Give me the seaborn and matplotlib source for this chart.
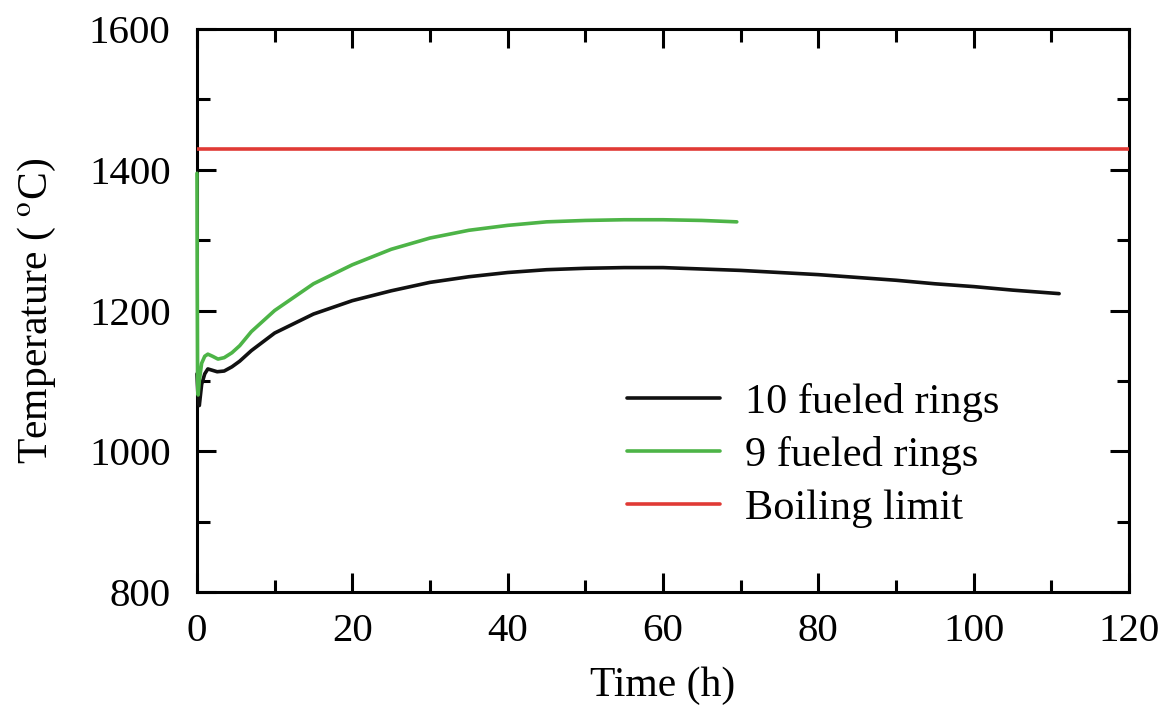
import numpy as np
import pandas as pd
import matplotlib
matplotlib.use("Agg")
import matplotlib.pyplot as plt
import seaborn as sns
from matplotlib.ticker import MultipleLocator
from matplotlib.lines import Line2D

# ---- data ----
time_10 = [0, 0.1, 0.3, 0.6, 1.0, 1.4, 2.0, 2.6, 3.5, 4.5, 5.5, 7, 10, 15, 20, 25, 30, 35, 40, 45, 50,
           55, 60, 65, 70, 75, 80, 85, 90, 95, 100, 105, 111]
temp_10 = [1110, 1085, 1065, 1095, 1110, 1117, 1115, 1113, 1114, 1120, 1128, 1143, 1168, 1195, 1214,
           1228, 1240, 1248, 1254, 1258, 1260, 1261, 1261, 1259, 1257, 1254, 1251, 1247, 1243, 1238,
           1234, 1229, 1224]

time_9 = [0, 0.03, 0.08, 0.15, 0.3, 0.6, 1.0, 1.4, 2.0, 2.7, 3.5, 4.5, 5.5, 7, 10, 15, 20, 25, 30, 35,
          40, 45, 50, 55, 60, 65, 69.5]
temp_9 = [1395, 1250, 1100, 1080, 1100, 1125, 1135, 1138, 1135, 1131, 1133, 1140, 1150, 1170, 1200,
          1238, 1265, 1287, 1303, 1314, 1321, 1326, 1328, 1329, 1329, 1328, 1326]

boiling_limit = 1430
series_labels = ["10 fueled rings", "9 fueled rings", "Boiling limit"]
series_colors = ["#111111", "#4db447", "#e03a35"]

x_ticks = [0, 20, 40, 60, 80, 100, 120]
y_ticks = [800, 1000, 1200, 1400, 1600]

df = pd.concat([
    pd.DataFrame({"Time": time_10, "Temp": temp_10, "Series": series_labels[0]}),
    pd.DataFrame({"Time": time_9, "Temp": temp_9, "Series": series_labels[1]}),
], ignore_index=True)

sns.set_style("ticks")
plt.rcParams["font.family"] = ["Liberation Serif", "DejaVu Serif"]
plt.rcParams["mathtext.fontset"] = "stix"
plt.rcParams["text.color"] = "black"
plt.rcParams["axes.labelcolor"] = "black"
plt.rcParams["xtick.color"] = "black"
plt.rcParams["ytick.color"] = "black"

fig = plt.figure(figsize=(11.69, 7.10), dpi=100)
ax = fig.add_axes([0.1685, 0.1662, 0.7973, 0.7929])

lw = 2.6
sns.lineplot(data=df, x="Time", y="Temp", hue="Series", sort=False, estimator=None,
             palette=dict(zip(series_labels[:2], series_colors[:2])), linewidth=lw, ax=ax,
             legend=False, zorder=3, clip_on=False)
ax.axhline(boiling_limit, color=series_colors[2], linewidth=lw, zorder=3)

ax.set_xlim(0, 120)
ax.set_ylim(800, 1600)
ax.set_xticks(x_ticks)
ax.set_yticks(y_ticks)
ax.xaxis.set_minor_locator(MultipleLocator(10))
ax.yaxis.set_minor_locator(MultipleLocator(100))
ax.tick_params(which="both", direction="in", top=True, right=True, width=2.2, labelsize=29.5)
ax.tick_params(axis="x", which="both", pad=15)
ax.tick_params(axis="y", which="both", pad=19)
ax.tick_params(which="major", length=14)
ax.tick_params(which="minor", length=9)
for s in ax.spines.values():
    s.set_linewidth(2.2)
    s.set_color("black")

ax.set_xlabel("Time (h)", fontsize=30, labelpad=12)
ax.set_ylabel("Temperature ( $^{\\mathrm{o}}$C)", fontsize=30, labelpad=22)

handles = [Line2D([0], [0], color=c, linewidth=lw) for c in series_colors]
ax.legend(handles, series_labels, loc="upper left", bbox_to_anchor=(0.4614, 0.372), frameon=False,
          fontsize=30.5, handlelength=2.2, handletextpad=0.59, labelspacing=0.34,
          borderpad=0, borderaxespad=0)

fig.savefig("out.png", dpi=100)
